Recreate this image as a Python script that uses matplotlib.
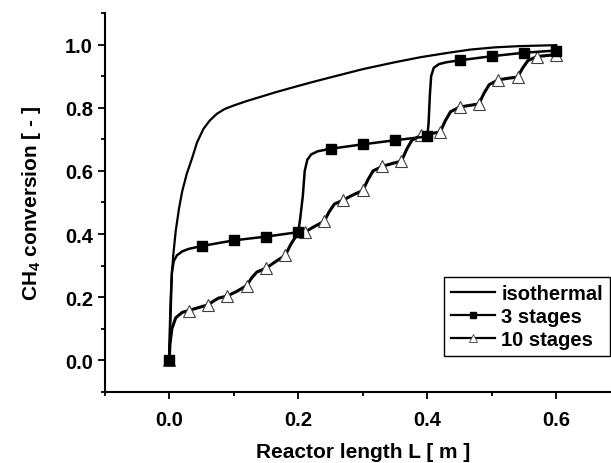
import matplotlib
matplotlib.use('Agg')
import matplotlib.pyplot as plt
from matplotlib.ticker import MultipleLocator

plt.rcParams['font.family'] = ['Liberation Sans', 'DejaVu Sans']
plt.rcParams['font.weight'] = 'bold'
plt.rcParams['mathtext.fontset'] = 'custom'
plt.rcParams['mathtext.rm'] = 'Liberation Sans:bold'
plt.rcParams['mathtext.default'] = 'rm'

# isothermal
iso_x = [0, 0.001, 0.003, 0.006, 0.01, 0.015, 0.02, 0.027, 0.035, 0.043,
         0.053, 0.063, 0.074, 0.086, 0.1, 0.12, 0.141, 0.165, 0.193, 0.218,
         0.25, 0.3, 0.35, 0.39, 0.43, 0.467, 0.505, 0.544, 0.6]
iso_y = [0, 0.12, 0.24, 0.33, 0.41, 0.48, 0.535, 0.59, 0.638, 0.69,
         0.733, 0.76, 0.781, 0.796, 0.807, 0.821, 0.834, 0.849, 0.865, 0.879,
         0.896, 0.922, 0.944, 0.960, 0.973, 0.984, 0.991, 0.995, 0.998]

# 3 stages, line
s3_x = [0, 0.002, 0.004, 0.007, 0.012, 0.02, 0.03, 0.05, 0.1, 0.15, 0.2,
        0.203, 0.207, 0.21, 0.214, 0.22, 0.23, 0.25, 0.3, 0.35, 0.4,
        0.402, 0.404, 0.406, 0.41, 0.418, 0.43, 0.45, 0.5, 0.55, 0.6]
s3_y = [0, 0.15, 0.28, 0.315, 0.333, 0.345, 0.353, 0.362, 0.380, 0.392, 0.406,
        0.45, 0.52, 0.60, 0.635, 0.652, 0.662, 0.670, 0.684, 0.697, 0.709,
        0.75, 0.84, 0.90, 0.926, 0.938, 0.944, 0.950, 0.963, 0.974, 0.981]
# 3 stages, markers
s3_mx = [0, 0.05, 0.1, 0.15, 0.2, 0.25, 0.3, 0.35, 0.4, 0.45, 0.5, 0.55, 0.6]
s3_my = [0, 0.362, 0.380, 0.392, 0.406, 0.670, 0.684, 0.697, 0.709,
         0.950, 0.963, 0.974, 0.981]

# 10 stages, line
s10_x = [0, 0.001, 0.004, 0.01, 0.02, 0.03, 0.045, 0.06,
         0.068, 0.076, 0.09, 0.105, 0.12,
         0.128, 0.136, 0.15, 0.165, 0.18,
         0.188, 0.196, 0.21, 0.225, 0.24,
         0.248, 0.256, 0.27, 0.285, 0.30,
         0.308, 0.316, 0.33, 0.345, 0.36,
         0.368, 0.376, 0.39, 0.405, 0.42,
         0.428, 0.436, 0.45, 0.465, 0.48,
         0.488, 0.496, 0.51, 0.525, 0.54,
         0.548, 0.556, 0.57, 0.585, 0.60]
s10_y = [0, 0.05, 0.10, 0.135, 0.152, 0.158, 0.167, 0.176,
         0.187, 0.197, 0.204, 0.219, 0.237,
         0.262, 0.280, 0.292, 0.313, 0.333,
         0.366, 0.392, 0.406, 0.424, 0.44,
         0.471, 0.495, 0.508, 0.524, 0.538,
         0.572, 0.600, 0.614, 0.623, 0.631,
         0.668, 0.697, 0.712, 0.718, 0.723,
         0.759, 0.787, 0.802, 0.807, 0.812,
         0.846, 0.873, 0.888, 0.893, 0.897,
         0.926, 0.949, 0.962, 0.965, 0.968]
# 10 stages, markers
s10_mx = [0, 0.03, 0.06, 0.09, 0.12, 0.15, 0.18, 0.21, 0.24, 0.27, 0.30,
          0.33, 0.36, 0.39, 0.42, 0.45, 0.48, 0.51, 0.54, 0.57, 0.60]
s10_my = [0, 0.158, 0.176, 0.204, 0.237, 0.292, 0.333, 0.406, 0.44, 0.508,
          0.538, 0.614, 0.631, 0.712, 0.723, 0.802, 0.812, 0.888, 0.897,
          0.962, 0.968]

fig = plt.figure(figsize=(6.11, 4.64), dpi=100)
ax = fig.add_axes([0.1715, 0.153, 0.8445, 0.817])

ax.plot(iso_x, iso_y, color='black', lw=1.6)
ax.plot(s10_x, s10_y, color='black', lw=2.2)
ax.plot(s10_mx, s10_my, ls='none', marker='^', ms=9, mfc='white',
        mec='#404040', mew=0.8)
ax.plot(s3_x, s3_y, color='black', lw=1.8)
ax.plot(s3_mx, s3_my, ls='none', marker='s', ms=7, mfc='black', mec='black')

# legend proxies
h1, = ax.plot([], [], color='black', lw=1.6)
h2, = ax.plot([], [], color='black', lw=1.6, marker='s', ms=4.5)
h3, = ax.plot([], [], color='black', lw=1.6, marker='^', ms=6,
              mfc='white', mec='#404040', mew=0.6)
leg = ax.legend([h1, h2, h3], ['isothermal', '3 stages', '10 stages'],
                loc='lower left', bbox_to_anchor=(0.657, 0.094),
                fontsize=14.5, handlelength=2.2, handletextpad=0.3,
                labelspacing=0.2, borderpad=0.35, fancybox=False,
                framealpha=1, edgecolor='black', borderaxespad=0)
leg.get_frame().set_linewidth(1.0)

ax.set_xlim(-0.1, 0.7)
ax.set_ylim(-0.1, 1.1)
ax.set_xticks([0.0, 0.2, 0.4, 0.6])
ax.set_yticks([0.0, 0.2, 0.4, 0.6, 0.8, 1.0])
ax.xaxis.set_minor_locator(MultipleLocator(0.1))
ax.yaxis.set_minor_locator(MultipleLocator(0.1))
ax.xaxis.set_major_formatter(plt.FormatStrFormatter('%.1f'))
ax.yaxis.set_major_formatter(plt.FormatStrFormatter('%.1f'))
ax.tick_params(which='major', direction='out', length=5, width=1.3,
               labelsize=14.5)
ax.tick_params(which='minor', direction='out', length=3, width=1.3)
ax.tick_params(axis='x', which='major', pad=8)

for s in ['top', 'right']:
    ax.spines[s].set_visible(False)
for s in ['left', 'bottom']:
    ax.spines[s].set_linewidth(1.5)

ax.set_xlabel('Reactor length L [ m ]', fontsize=15, fontweight='bold',
              labelpad=9)
ax.set_ylabel('CH$_4$ conversion [ - ]', fontsize=15, fontweight='bold',
              labelpad=16)

fig.savefig('out.png', dpi=100)
